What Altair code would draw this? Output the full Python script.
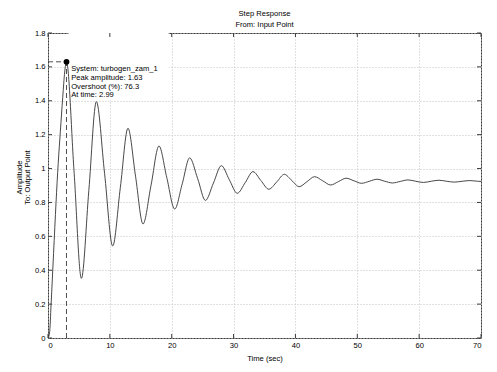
import altair as alt
import pandas as pd

# ---- data ----
t_vals = [0, 0.25, 0.5, 0.9, 1.3, 1.65, 2.0, 2.38, 2.7, 2.99,
          4.2, 5.4, 6.6, 7.82, 9.15, 10.46, 11.7, 12.93, 14.15, 15.36,
          16.65, 17.94, 19.2, 20.48, 21.7, 22.9, 24.2, 25.45, 26.75, 28.03,
          29.3, 30.6, 31.9, 33.14, 34.4, 35.7, 37.0, 38.2, 39.4, 40.6,
          41.85, 43.1, 44.4, 45.7, 46.95, 48.2, 49.45, 50.7, 51.95, 53.2,
          54.45, 55.7, 56.95, 58.2, 59.45, 60.7, 61.95, 63.2, 64.45, 65.7,
          66.95, 68.2, 69.45, 70]
y_vals = [0, 0.03, 0.2, 0.5, 0.8, 1.03, 1.22, 1.42, 1.57, 1.63,
          0.99, 0.352, 0.87, 1.395, 0.97, 0.543, 0.89, 1.238, 0.955, 0.673,
          0.90, 1.133, 0.947, 0.761, 0.91, 1.063, 0.94, 0.812, 0.915, 1.017,
          0.935, 0.854, 0.918, 0.982, 0.93, 0.878, 0.922, 0.966, 0.93, 0.893,
          0.922, 0.952, 0.928, 0.903, 0.923, 0.943, 0.928, 0.913, 0.925, 0.937,
          0.925, 0.915, 0.924, 0.933, 0.925, 0.918, 0.925, 0.931, 0.925, 0.92,
          0.925, 0.929, 0.925, 0.924]

x_ticks = [0, 10, 20, 30, 40, 50, 60, 70]
y_ticks = [0, 0.2, 0.4, 0.6, 0.8, 1.0, 1.2, 1.4, 1.6, 1.8]

system_name = "turbogen_zam_1"
peak_time = 2.99
peak_amp = 1.63
overshoot = 76.3
tip_lines = [f"System: {system_name}",
             f"Peak amplitude: {peak_amp}",
             f"Overshoot (%): {overshoot}",
             f"At time: {peak_time}"]

# ---- styling / layout constants ----
W, H = 433, 305
FONT = "Liberation Sans"
FS = 7.6
frame_color = "#3a3a3a"
tip_anchor = (3.75, 1.61)
tip_box = (3.3, 19.5, 1.405, 1.8)

xs = alt.Scale(domain=[0, 70], nice=False, zero=False)
ys = alt.Scale(domain=[0, 1.8], nice=False, zero=False)

x_axis = alt.Axis(values=x_ticks, title="Time (sec)", grid=True, format="d")
y_axis = alt.Axis(values=y_ticks, title=["Amplitude", "To: Output Point"], grid=True,
                  format="~g", titleAngle=-90, titleX=-33, titleY=144,
                  titleBaseline="top", titleAlign="center", titleLineHeight=8)

X = lambda f: alt.X(f, scale=xs, axis=x_axis)
Y = lambda f: alt.Y(f, scale=ys, axis=y_axis)

curve_df = pd.DataFrame({"t": t_vals, "y": y_vals})

curve = alt.Chart(curve_df).mark_line(
    color="#333333", strokeWidth=0.9, interpolate="monotone"
).encode(x=X("t:Q"), y=Y("y:Q"))

box_df = pd.DataFrame({"t": [tip_box[0]], "t2": [tip_box[1]],
                       "y": [tip_box[2]], "y2": [tip_box[3]]})
box = alt.Chart(box_df).mark_rect(color="white").encode(
    x=X("t:Q"), x2="t2:Q", y=Y("y:Q"), y2="y2:Q")

hline = alt.Chart(pd.DataFrame({"t": [0], "t2": [peak_time], "y": [peak_amp]})).mark_rule(
    color="#222", strokeDash=[5, 3], strokeWidth=0.8).encode(
    x=X("t:Q"), x2="t2:Q", y=Y("y:Q"))
vline = alt.Chart(pd.DataFrame({"t": [peak_time], "y": [0], "y2": [peak_amp]})).mark_rule(
    color="#222", strokeDash=[5, 3], strokeWidth=0.8).encode(
    x=X("t:Q"), y=Y("y:Q"), y2="y2:Q")

dot = alt.Chart(pd.DataFrame({"t": [peak_time], "y": [peak_amp]})).mark_point(
    filled=True, color="black", size=34, opacity=1).encode(
    x=X("t:Q"), y=Y("y:Q"))

tip = alt.Chart(pd.DataFrame({"t": [tip_anchor[0]], "y": [tip_anchor[1]],
                              "label": ["\n".join(tip_lines)]})).mark_text(
    align="left", baseline="top", lineBreak="\n", lineHeight=8.7,
    font=FONT, fontSize=FS, color="black").encode(
    x=X("t:Q"), y=Y("y:Q"), text="label:N")

xt = pd.DataFrame({"t": x_ticks})
yt = pd.DataFrame({"y": y_ticks})
tick_bottom = alt.Chart(xt).mark_rule(color=frame_color).encode(
    x=X("t:Q"), y=alt.value(H), y2=alt.value(H - 4))
tick_top = alt.Chart(xt).mark_rule(color=frame_color).encode(
    x=X("t:Q"), y=alt.value(0), y2=alt.value(4))
tick_left = alt.Chart(yt).mark_rule(color=frame_color).encode(
    y=Y("y:Q"), x=alt.value(0), x2=alt.value(4))
tick_right = alt.Chart(yt).mark_rule(color=frame_color).encode(
    y=Y("y:Q"), x=alt.value(W), x2=alt.value(W - 4))

chart = alt.layer(
    box, curve, hline, vline, dot, tip,
    tick_bottom, tick_top, tick_left, tick_right
).properties(
    width=W, height=H,
    autosize=alt.AutoSizeParams(type="none"),
    padding={"left": 40, "top": 25, "right": 8, "bottom": 26},
    title=alt.Title(text="Step Response", subtitle="From: Input Point",
                    anchor="middle", font=FONT, fontSize=FS, fontWeight="normal",
                    subtitleFont=FONT, subtitleFontSize=FS, subtitleColor="black",
                    color="black", offset=1, subtitlePadding=3, dy=0.5),
).configure(font=FONT).configure_view(
    stroke=frame_color, strokeWidth=1
).configure_axis(
    domain=False, ticks=False, labelPadding=3,
    labelFont=FONT, labelFontSize=FS, labelColor="black",
    titleFont=FONT, titleFontSize=FS, titleColor="black", titleFontWeight="normal",
    gridColor="#c2c2c2", gridDash=[1, 2], gridWidth=1,
).configure_axisX(titlePadding=6)

chart.save("out.html", embed_options={"renderer": "svg", "actions": False})
